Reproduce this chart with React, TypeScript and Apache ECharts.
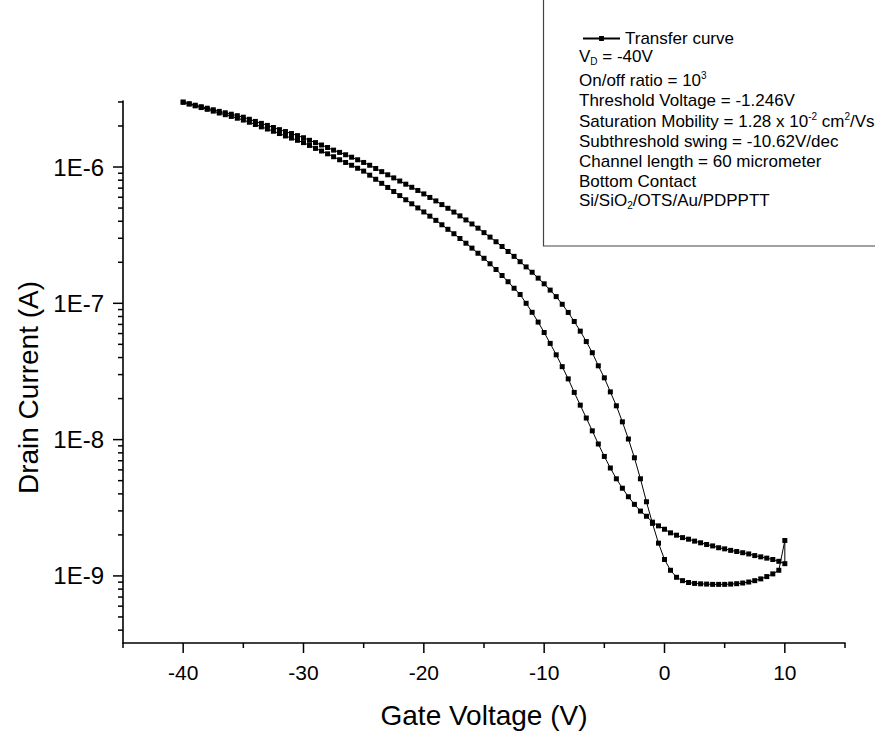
import React, { useEffect, useRef } from "react";
import * as echarts from "echarts";

// Gate voltage sweep points (V)
const VG = [
  -40, -39.5, -39, -38.5, -38, -37.5, -37, -36.5, -36, -35.5,
  -35, -34.5, -34, -33.5, -33, -32.5, -32, -31.5, -31, -30.5,
  -30, -29.5, -29, -28.5, -28, -27.5, -27, -26.5, -26, -25.5,
  -25, -24.5, -24, -23.5, -23, -22.5, -22, -21.5, -21, -20.5,
  -20, -19.5, -19, -18.5, -18, -17.5, -17, -16.5, -16, -15.5,
  -15, -14.5, -14, -13.5, -13, -12.5, -12, -11.5, -11, -10.5,
  -10, -9.5, -9, -8.5, -8, -7.5, -7, -6.5, -6, -5.5,
  -5, -4.5, -4, -3.5, -3, -2.5, -2, -1.5, -1, -0.5,
  0, 0.5, 1, 1.5, 2, 2.5, 3, 3.5, 4, 4.5,
  5, 5.5, 6, 6.5, 7, 7.5, 8, 8.5, 9, 9.5,
  10,
];

// Branch that falls steeply (drain current, A), at VG order
const ID_STEEP = [
  2.99e-6, 2.91e-6, 2.84e-6, 2.77e-6, 2.70e-6, 2.63e-6, 2.56e-6, 2.50e-6, 2.44e-6, 2.38e-6,
  2.32e-6, 2.24e-6, 2.16e-6, 2.09e-6, 2.02e-6, 1.95e-6, 1.88e-6, 1.82e-6, 1.76e-6, 1.70e-6,
  1.64e-6, 1.57e-6, 1.51e-6, 1.45e-6, 1.39e-6, 1.33e-6, 1.28e-6, 1.23e-6, 1.18e-6, 1.13e-6,
  1.08e-6, 1.03e-6, 9.75e-7, 9.25e-7, 8.77e-7, 8.32e-7, 7.89e-7, 7.48e-7, 7.10e-7, 6.73e-7,
  6.35e-7, 5.98e-7, 5.64e-7, 5.30e-7, 4.98e-7, 4.67e-7, 4.38e-7, 4.09e-7, 3.82e-7, 3.56e-7,
  3.30e-7, 3.06e-7, 2.83e-7, 2.61e-7, 2.40e-7, 2.21e-7, 2.02e-7, 1.85e-7, 1.69e-7, 1.53e-7,
  1.39e-7, 1.25e-7, 1.12e-7, 9.84e-8, 8.57e-8, 7.36e-8, 6.25e-8, 5.24e-8, 4.34e-8, 3.48e-8,
  2.84e-8, 2.24e-8, 1.77e-8, 1.35e-8, 1.01e-8, 7.36e-9, 5.16e-9, 3.50e-9, 2.43e-9, 1.74e-9,
  1.32e-9, 1.10e-9, 9.77e-10, 9.23e-10, 8.95e-10, 8.81e-10, 8.75e-10, 8.71e-10, 8.67e-10, 8.67e-10,
  8.67e-10, 8.71e-10, 8.77e-10, 8.87e-10, 9.02e-10, 9.23e-10, 9.51e-10, 9.89e-10, 1.035e-9, 1.10e-9,
  1.82e-9,
];

// Flatter return branch (drain current, A), at VG order
const ID_FLAT = [
  2.99e-6, 2.90e-6, 2.81e-6, 2.73e-6, 2.65e-6, 2.57e-6, 2.49e-6, 2.42e-6, 2.35e-6, 2.28e-6,
  2.21e-6, 2.13e-6, 2.05e-6, 1.97e-6, 1.90e-6, 1.83e-6, 1.76e-6, 1.69e-6, 1.63e-6, 1.57e-6,
  1.51e-6, 1.44e-6, 1.37e-6, 1.31e-6, 1.25e-6, 1.19e-6, 1.13e-6, 1.08e-6, 1.03e-6, 9.79e-7,
  9.33e-7, 8.71e-7, 8.13e-7, 7.59e-7, 7.08e-7, 6.61e-7, 6.17e-7, 5.75e-7, 5.37e-7, 5.01e-7,
  4.68e-7, 4.36e-7, 4.06e-7, 3.77e-7, 3.49e-7, 3.24e-7, 2.99e-7, 2.76e-7, 2.54e-7, 2.33e-7,
  2.14e-7, 1.95e-7, 1.77e-7, 1.60e-7, 1.44e-7, 1.29e-7, 1.16e-7, 1.00e-7, 8.59e-8, 7.28e-8,
  6.11e-8, 5.08e-8, 4.19e-8, 3.43e-8, 2.79e-8, 2.22e-8, 1.79e-8, 1.44e-8, 1.16e-8, 9.29e-9,
  7.53e-9, 6.19e-9, 5.16e-9, 4.40e-9, 3.81e-9, 3.35e-9, 2.99e-9, 2.74e-9, 2.48e-9, 2.33e-9,
  2.20e-9, 2.07e-9, 1.99e-9, 1.91e-9, 1.86e-9, 1.80e-9, 1.75e-9, 1.70e-9, 1.66e-9, 1.61e-9,
  1.58e-9, 1.54e-9, 1.51e-9, 1.48e-9, 1.45e-9, 1.41e-9, 1.38e-9, 1.35e-9, 1.32e-9, 1.28e-9,
  1.23e-9,
];

const X_MIN = -45;
const X_MAX = 15;
const Y_MIN = 3.22e-10;
const Y_MAX = 3.05e-6;
const X_MAJOR_TICKS = [-40, -30, -20, -10, 0, 10];
const X_MINOR_TICKS = [-45, -35, -25, -15, -5, 5, 15];
const Y_MAJOR_TICKS = [1e-9, 1e-8, 1e-7, 1e-6];
const Y_MINOR_TICKS = [
  4e-10, 5e-10, 6e-10, 7e-10, 8e-10, 9e-10,
  2e-9, 3e-9, 4e-9, 5e-9, 6e-9, 7e-9, 8e-9, 9e-9,
  2e-8, 3e-8, 4e-8, 5e-8, 6e-8, 7e-8, 8e-8, 9e-8,
  2e-7, 3e-7, 4e-7, 5e-7, 6e-7, 7e-7, 8e-7, 9e-7,
  2e-6, 3e-6,
];

const FONT = "'Liberation Sans', Arial, Helvetica, sans-serif";

export default function App() {
  const ref = useRef<HTMLDivElement>(null);

  useEffect(() => {
    if (!ref.current) return;
    const chart = echarts.init(ref.current, undefined, { renderer: "svg" });

    const curve: [number, number][] = [];
    VG.forEach((v, i) => curve.push([v, ID_STEEP[i]]));
    for (let i = VG.length - 1; i >= 0; i--) curve.push([VG[i], ID_FLAT[i]]);

    const ticks: number[][] = [];
    X_MAJOR_TICKS.forEach((v) => ticks.push([v, Y_MIN, 10, 0]));
    X_MINOR_TICKS.forEach((v) => ticks.push([v, Y_MIN, 5, 0]));
    Y_MAJOR_TICKS.forEach((v) => ticks.push([X_MIN, v, 10, 1]));
    Y_MINOR_TICKS.forEach((v) => ticks.push([X_MIN, v, 5, 1]));

    const n = { fontSize: 17, fontFamily: FONT, fill: "#000", lineHeight: 20 };
    const sup = { fontSize: 10, fontFamily: FONT, fill: "#000", lineHeight: 12, verticalAlign: "top" };
    const sub = { fontSize: 10, fontFamily: FONT, fill: "#000", lineHeight: 6, verticalAlign: "bottom" };
    const rich = { n, sup, sub };
    const infoLines: [string, number][] = [
      ["{n|V}{sub|D}{n| = -40V}", 56],
      ["{n|On/off ratio = 10}{sup|3}", 80],
      ["{n|Threshold Voltage = -1.246V}", 100.5],
      ["{n|Saturation Mobility = 1.28 x 10}{sup|-2}{n| cm}{sup|2}{n|/Vs}", 121],
      ["{n|Subthreshold swing = -10.62V/dec}", 141],
      ["{n|Channel length = 60 micrometer}", 161],
      ["{n|Bottom Contact}", 181],
      ["{n|Si/SiO}{sub|2}{n|/OTS/Au/PDPPTT}", 200.5],
    ];

    chart.setOption({
      animation: false,
      backgroundColor: "#fff",
      grid: { left: 123, top: 101, right: 30, bottom: 91, containLabel: false },
      legend: {
        data: ["Transfer curve"],
        left: 577,
        top: 25,
        itemWidth: 37,
        itemHeight: 6,
        textStyle: { fontSize: 17, fontFamily: FONT, color: "#000" },
        selectedMode: false,
      },
      xAxis: {
        type: "value",
        min: X_MIN,
        max: X_MAX,
        interval: 5,
        name: "Gate Voltage (V)",
        nameLocation: "middle",
        nameGap: 58,
        nameTextStyle: { fontSize: 28, fontFamily: FONT, color: "#000" },
        axisLine: { show: true, onZero: false, lineStyle: { color: "#000", width: 1.6 } },
        axisTick: { show: false },
        splitLine: { show: false },
        axisLabel: {
          fontSize: 21,
          fontFamily: FONT,
          color: "#000",
          margin: 19,
          formatter: (v: number) => (Math.abs(v % 10) < 1e-9 && v > X_MIN && v < X_MAX ? String(v) : ""),
        },
      },
      yAxis: {
        type: "log",
        logBase: 10,
        min: Y_MIN,
        max: Y_MAX,
        name: "Drain Current (A)",
        nameLocation: "middle",
        nameGap: 80,
        nameRotate: 90,
        nameTextStyle: { fontSize: 28, fontFamily: FONT, color: "#000", padding: [0, 31, 0, 0] },
        axisLine: { show: true, onZero: false, lineStyle: { color: "#000", width: 1.6 } },
        axisTick: { show: false },
        splitLine: { show: false },
        axisLabel: {
          fontSize: 24,
          fontFamily: FONT,
          color: "#000",
          margin: 19,
          formatter: (v: number) => {
            const l = Math.log10(v);
            const e = Math.round(l);
            return Math.abs(l - e) < 1e-6 ? "1E" + e : "";
          },
        },
      },
      graphic: [
        {
          type: "rect",
          shape: { x: 543.5, y: -10, width: 400, height: 256 },
          style: { fill: "none", stroke: "#444", lineWidth: 1.2 },
          silent: true,
        },
        ...infoLines.map(([t, y]) => ({
          type: "text",
          x: 579,
          y,
          silent: true,
          style: { text: t, rich, align: "left", verticalAlign: "middle", fontSize: 17, fontFamily: FONT, fill: "#000" },
        })),
      ],
      series: [
        {
          name: "Transfer curve",
          type: "line",
          data: curve,
          symbol: "rect",
          symbolSize: 5,
          showSymbol: true,
          showAllSymbol: true,
          lineStyle: { color: "#000", width: 1 },
          itemStyle: { color: "#000" },
          clip: false,
        },
        {
          name: "ticks",
          type: "custom",
          silent: true,
          clip: false,
          data: ticks,
          renderItem: (params: any, api: any) => {
            const p = api.coord([api.value(0), api.value(1)]);
            const len = api.value(2);
            const dir = api.value(3);
            return {
              type: "line",
              shape:
                dir === 0
                  ? { x1: p[0], y1: p[1], x2: p[0], y2: p[1] + len }
                  : { x1: p[0], y1: p[1], x2: p[0] - len, y2: p[1] },
              style: { stroke: "#000", lineWidth: 1.5 },
            };
          },
        },
      ],
    });

    return () => chart.dispose();
  }, []);

  return (
    <div
      ref={ref}
      style={{ position: "absolute", left: 0, top: 0, width: 875, height: 734 }}
    />
  );
}
